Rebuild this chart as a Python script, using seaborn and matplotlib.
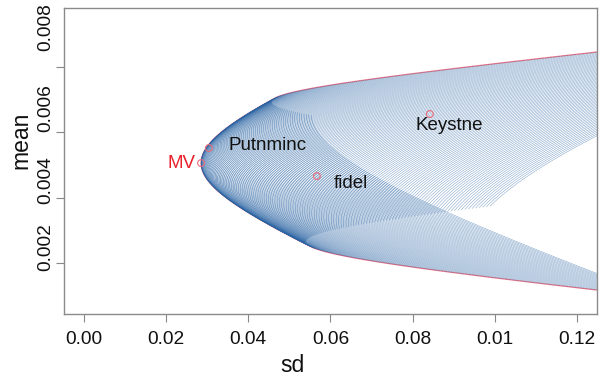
import numpy as np
import pandas as pd
import matplotlib
matplotlib.use("Agg")
import matplotlib.pyplot as plt
import matplotlib.transforms as mtransforms
import seaborn as sns

# ---- frontier of the three funds ------------------------------------------
mv_sd = 0.0285          # global minimum-variance portfolio
mv_mean = 0.00506
curvature = 341.0       # extra variance per squared mean distance from MV

# limits of the weight grid, written in (mean, residual) coordinates
edge_lo, edge_hi = 0.0025, 0.00705      # mean - slope_edge * resid
grid_lo, grid_hi = -0.127, 0.041        # resid - slope_grid * mean
slope_edge = 0.01353
slope_grid = 13.5
n_lines = 201

funds = ["Putnminc", "fidel", "Keystne"]
fund_sd = [0.0304, 0.0567, 0.0842]
fund_mean = [0.00552, 0.00466, 0.00656]

xticks = [0.00, 0.02, 0.04, 0.06, 0.08, 0.10, 0.12]
xtick_labels = ["0.00", "0.02", "0.04", "0.06", "0.08", "0.01", "0.12"]
yticks = [0.002, 0.004, 0.006, 0.008]
ytick_labels = ["0.002", "0.004", "0.006", "0.008"]
ytick_label_at = [0.00249, 0.00454, 0.006745, 0.009224]


def port_sd(m, r):
    """Standard deviation of a portfolio with mean m and residual r."""
    return np.sqrt(mv_sd ** 2 + curvature * (m - mv_mean) ** 2 + r ** 2)


# family of portfolio curves, one per grid value
den = 1.0 - slope_edge * slope_grid
frames = []
for k, g in enumerate(np.linspace(grid_lo, grid_hi, n_lines)):
    m = np.linspace((edge_lo + slope_edge * g) / den,
                    (edge_hi + slope_edge * g) / den, 260)
    r = g + slope_grid * m
    frames.append(pd.DataFrame({"sd": port_sd(m, r), "mean": m, "line": k}))
curves = pd.concat(frames, ignore_index=True)

# outer boundary: lower edge -> frontier -> upper edge
r_low_end = (grid_lo + slope_grid * edge_lo) / den
r_high_end = (grid_hi + slope_grid * edge_hi) / den
r_low = np.linspace(r_low_end, 0, 200)
r_high = np.linspace(0, r_high_end, 200)
m_front = np.linspace(edge_lo, edge_hi, 300)
b_mean = np.concatenate([edge_lo + slope_edge * r_low, m_front,
                         edge_hi + slope_edge * r_high])
b_res = np.concatenate([r_low, np.zeros_like(m_front), r_high])
boundary = pd.DataFrame({"sd": port_sd(b_mean, b_res), "mean": b_mean,
                         "order": np.arange(len(b_mean))})

sns.set_style("ticks")
plt.rcParams["font.family"] = ["Liberation Sans", "DejaVu Sans"]

fig = plt.figure(figsize=(6.04, 3.82), dpi=100)
ax = fig.add_axes([64 / 604, 1 - 314 / 382, 533 / 604, 306 / 382])

sns.lineplot(data=boundary, x="sd", y="mean", sort=False, color="#f47585",
             lw=0.9, ax=ax, zorder=1)
sns.lineplot(data=curves, x="sd", y="mean", units="line", estimator=None,
             sort=False, color="#2a64a4", lw=0.3, alpha=0.72, ax=ax,
             zorder=2, legend=False)

# minimum-variance point and the three funds
sns.scatterplot(x=[mv_sd] + fund_sd, y=[mv_mean] + fund_mean, ax=ax,
                marker="o", s=24, facecolors="none", edgecolor="#e86a7a",
                linewidth=0.8, zorder=4)
px = 0.72  # points per pixel
ax.annotate("MV", (mv_sd, mv_mean), xytext=(-6 * px, 0),
            textcoords="offset points", ha="right", va="center",
            color="#e8202a", fontsize=13.5, zorder=5)
offsets = [(20, 3), (17, -7), (19, -11)]
aligns = ["left", "left", "center"]
for name, s, mu, (dx, dy), ha in zip(funds, fund_sd, fund_mean, offsets, aligns):
    ax.annotate(name, (s, mu), xytext=(dx * px, dy * px),
                textcoords="offset points", ha=ha, va="center",
                color="#111111", fontsize=13.5, zorder=5)

ax.set_xlim(-0.00487, 0.1249)
ax.set_ylim(0.000439, 0.009806)
ax.set_xticks(xticks)
ax.set_xticklabels(xtick_labels, fontsize=13.8, color="#111111")
ax.set_yticks(yticks)
ax.set_yticklabels([])
trans = mtransforms.blended_transform_factory(ax.transAxes, ax.transData)
for lab, y in zip(ytick_labels, ytick_label_at):
    ax.text(-0.0338, y, lab, transform=trans, rotation=90, ha="center",
            va="center", fontsize=13.8, color="#111111")
ax.tick_params(axis="both", length=6, width=0.8, color="#888888", pad=6)
for sp in ax.spines.values():
    sp.set_visible(True)
    sp.set_color("#8a8a8a")
    sp.set_linewidth(1.0)
ax.set_xlabel("")
ax.set_ylabel("")
fig.text(292 / 604, 1 - 365 / 382, "sd", ha="center", va="center",
         fontsize=16.5, color="#111111")
fig.text(21 / 604, 1 - 140 / 382, "mean", ha="center", va="center",
         rotation=90, fontsize=16.5, color="#111111")

fig.savefig("out.png", dpi=100)
